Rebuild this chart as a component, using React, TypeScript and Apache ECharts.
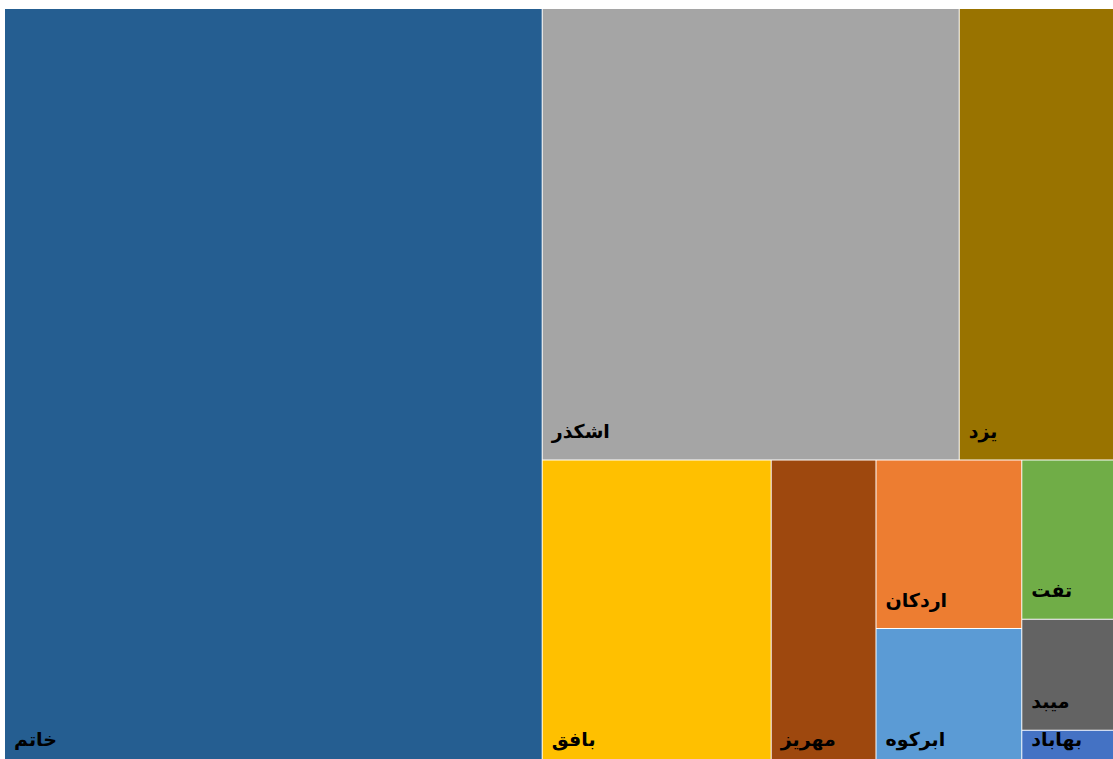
import React, { useEffect, useRef } from "react";
import * as echarts from "echarts";

const names = ["خاتم", "اشکذر", "یزد", "بافق", "مهریز", "اردکان", "ابرکوه", "تفت", "میبد", "بهاباد"];
const values = [405000, 186800, 69100, 69900, 32000, 24400, 20100, 14500, 10100, 3400];
const colors = ["#255E91", "#A5A5A5", "#997300", "#FFC000", "#9E480E", "#ED7D31", "#5B9BD5", "#70AD47", "#636363", "#4472C4"];

const leaf = (i: number) => ({
  name: names[i],
  value: values[i],
  itemStyle: { color: colors[i] },
});

const group = (children: any[]) => ({ name: "", children });

export default function App() {
  const ref = useRef<HTMLDivElement>(null);
  useEffect(() => {
    if (!ref.current) return;
    const chart = echarts.init(ref.current, null, { renderer: "svg" });
    const data = [
      leaf(0),
      group([
        group([leaf(1), leaf(2)]),
        group([
          leaf(3),
          group([
            group([leaf(4), group([leaf(5), leaf(6)])]),
            group([leaf(7), leaf(8), leaf(9)]),
          ]),
        ]),
      ]),
    ];
    chart.setOption({
      animation: false,
      series: [
        {
          type: "treemap",
          left: 5,
          top: 9,
          width: 1108,
          height: 758,
          sort: false,
          squareRatio: 1.3,
          roam: false,
          nodeClick: false,
          breadcrumb: { show: false },
          itemStyle: { borderWidth: 0, gapWidth: 1, borderColor: "#ffffff" },
          label: {
            show: true,
            position: "insideBottomLeft",
            distance: 4,
            offset: [0, -10],
            color: "#000000",
            fontSize: 19,
            fontWeight: "bold",
            fontFamily: "DejaVu Sans",
            formatter: "{b}",
          },
          upperLabel: { show: false },
          data,
        },
      ],
    });
    return () => chart.dispose();
  }, []);
  return (
    <div
      ref={ref}
      style={{ position: "fixed", left: 0, top: 0, width: 1113, height: 759, background: "#fff", overflow: "hidden" }}
    />
  );
}
